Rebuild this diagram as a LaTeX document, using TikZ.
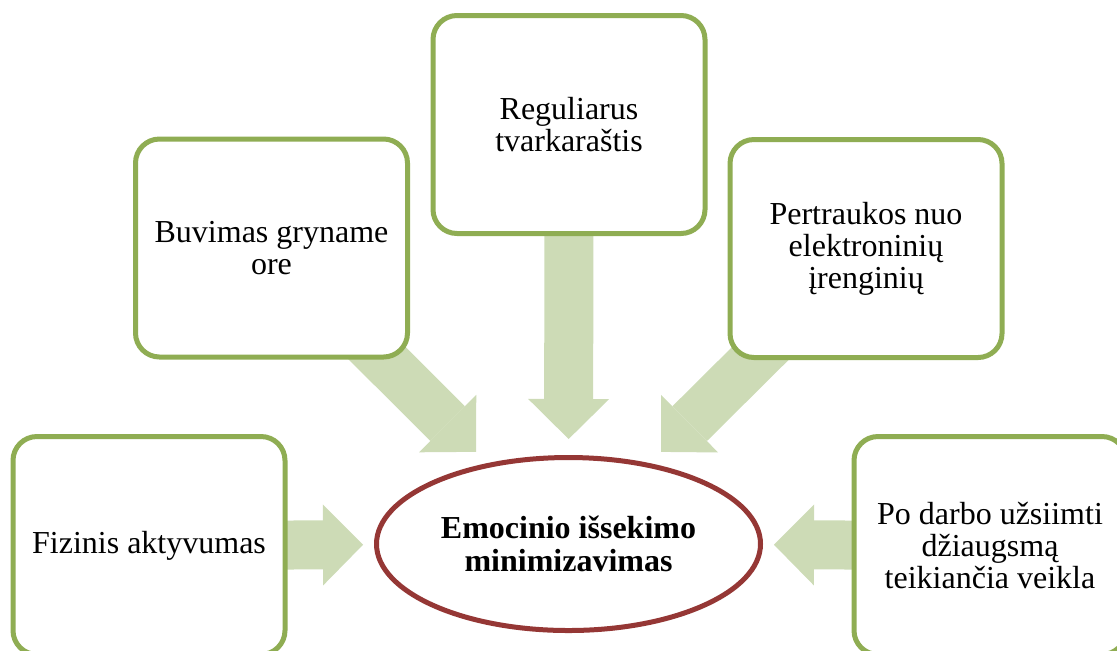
\documentclass[tikz,border=0pt]{standalone}
\usepackage{fontspec}
\setmainfont{Liberation Serif}
\usepackage{xcolor}
\usepackage{tikz}
\usetikzlibrary{arrows.meta, shapes.geometric, backgrounds}
\definecolor{vert}{HTML}{8FAD53}
\definecolor{vertpale}{HTML}{CDDBB6}
\definecolor{bordeaux}{HTML}{953735}

\begin{document}
\begin{tikzpicture}[x=0.5pt, y=-0.5pt,
    cadre/.style={draw=vert, line width=2.5pt, fill=white, rounded corners=12pt,
      minimum width=136pt, minimum height=109pt, align=center, inner sep=0pt,
      font=\fontsize{16}{16}\selectfont},
    centre/.style={ellipse, draw=bordeaux, line width=2.5pt, fill=white,
      minimum width=192pt, minimum height=86.5pt, align=center, inner sep=0pt,
      font=\fontsize{16}{16.5}\selectfont\bfseries},
    fleche/.style={draw=vertpale, line width=24.5pt,
      -{Triangle[width=40.5pt, length=20pt, line width=0pt]}}]
    \useasboundingbox (0,0) rectangle (1117,650);
    % Ellipse centrale
    \node[centre] (emo) at (568.5,544) {Emocinio išsekimo\\minimizavimas};
    % Cadres : nom, x, y, libelle
    \foreach \nom/\x/\y/\lab in {
      reg/569/124.5/{Reguliarus\\tvarkaraštis},
      buv/271.5/248/{Buvimas gryname\\ore},
      pert/866/248.5/{Pertraukos nuo\\elektroninių\\įrenginių},
      fiz/149/545.5/{Fizinis aktyvumas},
      po/990/545.5/{Po darbo užsiimti\\džiaugsmą\\teikiančia veikla}} {
      \node[cadre] (\nom) at (\x,\y) {\lab};
    }
    % Fleches
    \begin{scope}[on background layer]
      \foreach \nom/\ecart in {reg/8pt, buv/8pt, pert/8pt, fiz/5.5pt, po/5.5pt}
        \draw[fleche, shorten >=\ecart] (\nom.center) -- (emo);
    \end{scope}
  \end{tikzpicture}
\end{document}
